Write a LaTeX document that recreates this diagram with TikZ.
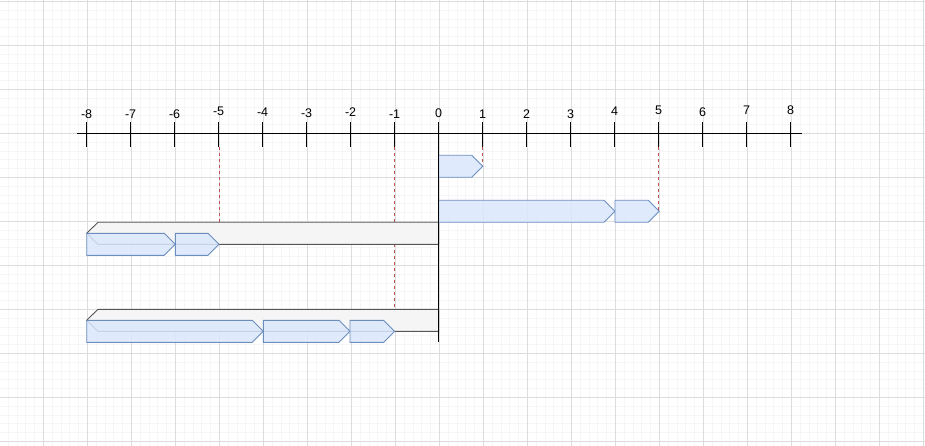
\documentclass[tikz,border=0pt]{standalone}
\usepackage{fontspec}
\setmainfont{Liberation Sans}
\definecolor{blueFill}{HTML}{DAE8FC}
\definecolor{blueLine}{HTML}{6C8EBF}
\definecolor{grayFill}{HTML}{F5F5F5}
\definecolor{grayLine}{HTML}{555555}
\definecolor{gridMajor}{HTML}{DDDDDD}
\definecolor{gridMinor}{HTML}{F6F6F6}
\definecolor{guide}{HTML}{C0504D}
\newcommand\sigarrow[5][]{\draw[#1] (#2,#4) -- ({#3-11},#4) -- (#3,{(#4+#5)/2}) -- ({#3-11},#5) -- (#2,#5) -- cycle;}
\begin{document}
\begin{tikzpicture}[x=1pt,y=-1pt,
  minorgrid/.style={draw=gridMinor, line width=0.6pt},
  majorgrid/.style={draw=gridMajor, line width=0.8pt},
  bluearrow/.style={fill=blueFill, draw=blueLine, line width=0.9pt, fill opacity=0.85},
  grayshape/.style={fill=grayFill, draw=grayLine, line width=0.9pt},
  tickmark/.style={draw=black, line width=1.4pt},
  guideline/.style={draw=guide, line width=0.6pt, dash pattern=on 3pt off 3pt},
  numlabel/.style={font=\fontsize{12.5}{14}\selectfont, inner sep=0pt, anchor=center}]
\useasboundingbox (0,0) rectangle (925,446);
\fill[white] (0,0) rectangle (925,446);
% grid
\foreach \i in {0,...,106} {\draw[minorgrid] ({-0.7+8.8*\i},0) -- ({-0.7+8.8*\i},446);}
\foreach \i in {0,...,51} {\draw[minorgrid] (0,{1.3+8.8*\i}) -- (925,{1.3+8.8*\i});}
\foreach \i in {0,...,21} {\draw[majorgrid] ({-0.7+44*\i},0) -- ({-0.7+44*\i},446);}
\foreach \i in {0,...,10} {\draw[majorgrid] (0,{1.3+44*\i}) -- (925,{1.3+44*\i});}
% axis
\coordinate (axL) at (77,133.3);
\coordinate (axR) at (802,133.3);
\draw[line width=1.2pt] (axL) -- (axR);
\foreach \n/\yy in {-8/114.3,-7/114.3,-6/114.3,-5/111.7,-4/112.3,-3/112.7,-2/112.3,-1/114.3,0/113.3,1/114.3,2/114.3,3/114.3,4/111,5/110.7,6/111.7,7/110.3,8/110.3} {
  \draw[tickmark] ({438.6+44*\n},122) -- ({438.6+44*\n},147.5);
  \node[numlabel] (lab\n) at ({438.6+44*\n},\yy) {\n};
}
% red guide lines
\draw[guideline] (219,147.5) -- (219,233.3);
\draw[guideline] (394.6,147.5) -- (394.6,331.3);
\draw[guideline] (482.6,147.5) -- (482.6,166.3);
\draw[guideline] (658.6,147.5) -- (658.6,211.3);
% gray bars
\draw[grayshape] (86.6,233.3) -- (98,222.3) -- (438.6,222.3) -- (438.6,244.3) -- (98,244.3) -- cycle;
\draw[grayshape] (86.6,320.3) -- (98,309.3) -- (438.6,309.3) -- (438.6,331.3) -- (98,331.3) -- cycle;
% blue arrows
\sigarrow[bluearrow]{438.7}{482.7}{155.3}{177.3}
\sigarrow[bluearrow]{438.7}{615}{200.3}{222.3}
\sigarrow[bluearrow]{615}{659.3}{200.3}{222.3}
\sigarrow[bluearrow]{86.7}{175.3}{233.3}{255.3}
\sigarrow[bluearrow]{175.3}{219}{233.3}{255.3}
\sigarrow[bluearrow]{86.7}{263.3}{320.3}{342.3}
\sigarrow[bluearrow]{263.3}{350}{320.3}{342.3}
\sigarrow[bluearrow]{350}{394.6}{320.3}{342.3}
% zero line
\draw[line width=1.3pt] (438.6,147.5) -- (438.6,342.3);
\end{tikzpicture}
\end{document}
